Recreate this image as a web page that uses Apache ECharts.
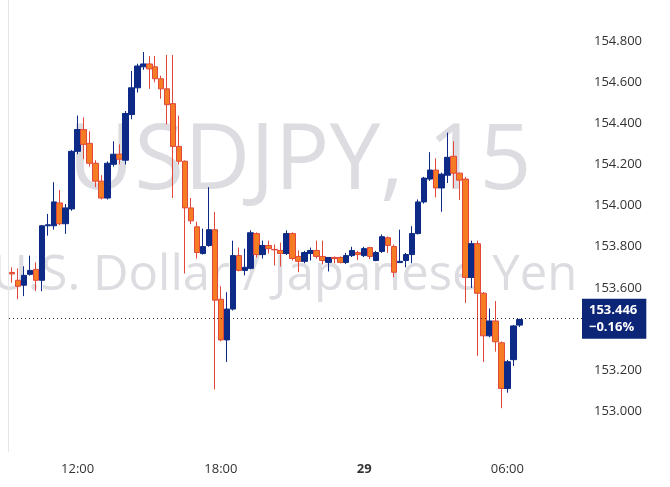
<!DOCTYPE html>
<html><head><meta charset="utf-8">
<script src="https://cdn.jsdelivr.net/npm/echarts@6/dist/echarts.min.js"></script>
<style>html,body{margin:0;padding:0;background:#fff}#c{width:670px;height:487px}</style>
</head><body><div id="c"></div>
<script>
// OHLC values (15-minute candles)
const opens  = [153.675,153.637,153.613,153.666,153.690,153.637,153.902,153.902,154.013,153.912,153.984,154.264,154.370,154.303,154.206,154.119,154.037,154.201,154.250,154.221,154.443,154.573,154.675,154.689,154.675,154.617,154.568,154.496,154.288,154.216,153.989,153.897,153.767,153.806,153.883,153.545,153.347,153.497,153.757,153.685,153.695,153.864,153.762,153.806,153.787,153.782,153.767,153.864,153.753,153.729,153.767,153.782,153.753,153.724,153.748,153.748,153.724,153.757,153.772,153.757,153.796,153.733,153.777,153.844,153.801,153.723,153.733,153.762,153.864,154.018,154.129,154.173,154.086,154.148,154.240,154.158,154.129,153.651,153.815,153.574,153.367,153.439,153.333,153.111,153.251,153.419];
const closes = [153.668,153.608,153.661,153.685,153.637,153.902,153.907,154.018,153.912,153.989,154.264,154.370,154.298,154.206,154.119,154.037,154.206,154.250,154.226,154.448,154.573,154.679,154.689,154.665,154.617,154.568,154.491,154.288,154.216,153.989,153.926,153.772,153.801,153.883,153.540,153.347,153.497,153.757,153.685,153.700,153.868,153.762,153.806,153.791,153.785,153.767,153.864,153.743,153.729,153.772,153.782,153.753,153.733,153.748,153.743,153.724,153.757,153.782,153.762,153.791,153.753,153.772,153.849,153.806,153.676,153.729,153.762,153.864,154.018,154.134,154.173,154.086,154.153,154.235,154.158,154.124,153.651,153.815,153.574,153.367,153.439,153.338,153.111,153.241,153.415,153.446];
const lows   = [153.625,153.545,153.560,153.660,153.584,153.584,153.854,153.883,153.905,153.863,153.975,154.250,154.226,154.190,154.090,154.030,154.030,154.190,154.201,154.200,154.420,154.550,154.660,154.568,154.600,154.520,154.395,154.037,154.200,153.670,153.910,153.743,153.762,153.800,153.106,153.340,153.240,153.490,153.680,153.661,153.690,153.748,153.743,153.767,153.709,153.704,153.760,153.733,153.676,153.720,153.733,153.743,153.714,153.680,153.720,153.719,153.716,153.750,153.735,153.750,153.740,153.730,153.770,153.770,153.652,153.723,153.700,153.720,153.860,154.010,154.120,154.040,153.970,154.110,154.085,154.028,153.527,153.600,153.270,153.240,153.360,153.290,153.015,153.090,153.220,153.410];
const highs  = [153.700,153.695,153.705,153.757,153.724,153.905,153.960,154.114,154.076,154.008,154.270,154.438,154.429,154.361,154.221,154.148,154.215,154.313,154.298,154.460,154.655,154.690,154.747,154.728,154.728,154.632,154.733,154.733,154.438,154.220,154.037,153.922,153.888,154.090,153.970,153.608,153.579,153.830,153.796,153.791,153.880,153.870,153.830,153.830,153.811,153.820,153.880,153.870,153.782,153.780,153.796,153.830,153.830,153.750,153.753,153.753,153.770,153.800,153.780,153.800,153.800,153.780,153.860,153.850,153.811,153.883,153.770,153.900,154.030,154.140,154.260,154.230,154.160,154.355,154.313,154.160,154.140,153.830,153.830,153.580,153.500,153.536,153.340,153.250,153.420,153.450];
const yTicks = ['153.000','153.200','153.400','153.600','153.800','154.000','154.200','154.400','154.600','154.800'];
const lastPrice = 153.446;
const lastChange = '−0.16%';
const startMinutes = 9*60+15; // first candle 09:15 on the 28th
const totalSlots = 96;

const cats = [];
for (let i = 0; i < totalSlots; i++) {
  const m = startMinutes + i*15;
  const hh = Math.floor(m/60) % 24, mm = m % 60;
  cats.push((hh<10?'0':'')+hh+':'+(mm<10?'0':'')+mm);
}
const ohlc = opens.map((o,i)=>[o, closes[i], lows[i], highs[i]]);

const chart = echarts.init(document.getElementById('c'));
chart.setOption({
  animation:false,
  backgroundColor:'#fff',
  grid:{left:9, right:88, top:-3.4, bottom:34.6},
  graphic:[
    {type:'text', z:-10, left:68, top:118, style:{text:'USDJPY, 15', font:'91px "Open Sans", sans-serif', fill:'#dcdce1'}},
    {type:'text', z:-10, left:-8, top:252, style:{text:'U.S. Dollar / Japanese Yen', font:'49px "Open Sans", sans-serif', fill:'#dcdce1'}},
    {type:'line', z:-5, shape:{x1:8.5,y1:0,x2:8.5,y2:452}, style:{stroke:'#e6e6e6',lineWidth:1}}
  ],
  xAxis:{type:'category', data:cats, boundaryGap:true,
    axisLine:{show:false}, axisTick:{show:false}, splitLine:{show:false},
    axisLabel:{interval:0, margin:10, fontFamily:'Open Sans', fontSize:13, color:'#333',
      formatter:function(v){ if(v==='12:00'||v==='18:00'||v==='06:00') return v; if(v==='00:00') return '{b|29}'; return ''; },
      rich:{b:{fontWeight:'bold',fontSize:13,color:'#333',fontFamily:'Open Sans'}}}},
  yAxis:{type:'value', position:'right', min:152.8, max:155.0, interval:0.2, scale:true,
    splitLine:{show:false}, axisLine:{show:false}, axisTick:{show:false},
    axisLabel:{showMinLabel:false, showMaxLabel:false, margin:12, fontFamily:'Open Sans', fontSize:13, color:'#333',
      formatter:function(v){ const s=v.toFixed(3); return yTicks.indexOf(s)>=0?s:''; }}},
  series:[{type:'candlestick', data:ohlc, barWidth:6,
    itemStyle:{color:'#0c2a86', color0:'#f57c22', borderColor:'#0c2a86', borderColor0:'#e2473b', borderWidth:1},
    markLine:{symbol:'none', silent:true,
      lineStyle:{type:[1,3], color:'#222', width:1},
      data:[{yAxis:lastPrice}],
      label:{position:'end', distance:0, formatter: lastPrice.toFixed(3)+'\n'+lastChange,
        backgroundColor:'#0c2577', color:'#fff', fontFamily:'Open Sans', fontSize:13, fontWeight:'bold',
        lineHeight:17, padding:[3,9,3,7]}}
  }]
});
</script></body></html>
